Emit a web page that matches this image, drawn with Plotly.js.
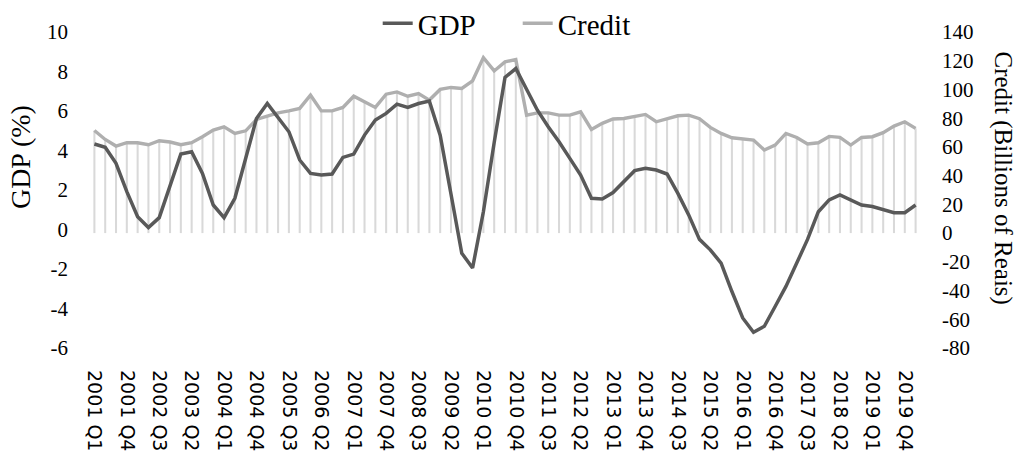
<!DOCTYPE html>
<html>
<head>
<meta charset="utf-8">
<script src="https://cdn.plot.ly/plotly-3.0.1.min.js"></script>
<style>html,body{margin:0;padding:0;background:#fff;}#chart{width:1016px;height:454px;}</style>
</head>
<body>
<div id="chart"></div>
<script>
var quarters = ["2001 Q1","2001 Q2","2001 Q3","2001 Q4","2002 Q1","2002 Q2","2002 Q3","2002 Q4",
"2003 Q1","2003 Q2","2003 Q3","2003 Q4","2004 Q1","2004 Q2","2004 Q3","2004 Q4",
"2005 Q1","2005 Q2","2005 Q3","2005 Q4","2006 Q1","2006 Q2","2006 Q3","2006 Q4",
"2007 Q1","2007 Q2","2007 Q3","2007 Q4","2008 Q1","2008 Q2","2008 Q3","2008 Q4",
"2009 Q1","2009 Q2","2009 Q3","2009 Q4","2010 Q1","2010 Q2","2010 Q3","2010 Q4",
"2011 Q1","2011 Q2","2011 Q3","2011 Q4","2012 Q1","2012 Q2","2012 Q3","2012 Q4",
"2013 Q1","2013 Q2","2013 Q3","2013 Q4","2014 Q1","2014 Q2","2014 Q3","2014 Q4",
"2015 Q1","2015 Q2","2015 Q3","2015 Q4","2016 Q1","2016 Q2","2016 Q3","2016 Q4",
"2017 Q1","2017 Q2","2017 Q3","2017 Q4","2018 Q1","2018 Q2","2018 Q3","2018 Q4",
"2019 Q1","2019 Q2","2019 Q3","2019 Q4","2020 Q1"];

var gdp = [4.33,4.16,3.35,1.92,0.65,0.1,0.6,2.17,3.82,3.94,
2.84,1.24,0.6,1.58,3.52,5.62,6.38,5.7,4.95,3.52,
2.84,2.76,2.81,3.65,3.82,4.78,5.54,5.88,6.35,6.18,
6.38,6.5,4.78,1.8,-1.2,-1.95,0.9,4.4,7.7,8.15,
7.1,6.04,5.2,4.44,3.6,2.76,1.58,1.55,1.87,2.42,
2.98,3.1,3.01,2.81,1.83,0.74,-0.5,-1.03,-1.7,-3.14,
-4.48,-5.2,-4.9,-3.9,-2.88,-1.7,-0.5,0.9,1.5,1.75,
1.5,1.24,1.16,0.99,0.85,0.85,1.24];

var credit = [71.4,65.2,60.6,62.9,62.9,61.5,64.3,63.4,61.5,62.9,
67.1,71.7,74,69.4,71.2,79.1,81.4,83.7,85.1,86.8,
96,85.1,85.1,87.5,95.3,91.4,87.5,96.7,98.3,95.3,
97.2,92.6,100,101.4,100.7,106,122.2,112.9,119.2,120.8,
82.1,83.7,83.7,82.1,82.1,84.4,72.2,76.4,79.4,79.8,
81,82.6,77.5,79.6,81.7,82.1,79.6,73.6,69.4,66.4,
65.5,64.8,57.8,61.3,69.4,66.6,62,62.9,67.3,66.6,
61.3,66.6,67.1,69.9,74.5,77.5,72.9];

var tickLabels = quarters.filter(function(q, i){ return i % 3 === 0; });
var gdpTickVals = [-6,-4,-2,0,2,4,6,8,10];
var gdpTickText = ["-6","-4","-2","0","2","4","6","8","10"];
var creditTickVals = [-80,-60,-40,-20,0,20,40,60,80,100,120,140];
var creditTickText = ["-80","-60","-40","-20","0","20","40","60","80","100","120","140"];

var SERIF = "'Liberation Serif', 'Times New Roman', serif";
var SANS = "'DejaVu Sans', sans-serif";

var traces = [
  {type:'bar', x:quarters, y:credit, yaxis:'y', xaxis:'x', width:0.19,
   marker:{color:'#d9d9d9', line:{width:0}}, showlegend:false, hoverinfo:'skip'},
  {type:'scatter', mode:'lines', name:'GDP', x:quarters, y:gdp, yaxis:'y2', xaxis:'x',
   line:{color:'#595959', width:3.5}},
  {type:'scatter', mode:'lines', name:'Credit', x:quarters, y:credit, yaxis:'y', xaxis:'x',
   line:{color:'#afafaf', width:3.4}}
];

var layout = {
  width:1016, height:454,
  margin:{l:89, r:95, t:32, b:106, autoexpand:false},
  paper_bgcolor:'#fff', plot_bgcolor:'rgba(0,0,0,0)',
  font:{family:SERIF, size:21, color:'#000'},
  showlegend:true,
  legend:{orientation:'h', x:0.347, xanchor:'left', y:1.027, yanchor:'middle',
          entrywidth:95, entrywidthmode:'pixels',
          font:{family:SERIF, size:29, color:'#000'}, traceorder:'normal', bgcolor:'rgba(0,0,0,0)'},
  xaxis:{type:'category', categoryorder:'array', categoryarray:quarters,
         range:[-0.5, quarters.length-0.5], tickmode:'array', tickvals:tickLabels, ticktext:tickLabels,
         tickangle:90, ticks:'', showline:false, showgrid:false, zeroline:false,
         ticklabelstandoff:21, tickfont:{family:SANS, size:19, color:'#000'}},
  xaxis2:{type:'linear', overlaying:'x', anchor:'free', position:80/220,
          range:[-0.5, quarters.length-0.5], tickmode:'linear', tick0:0, dtick:1,
          showline:true, linecolor:'#d9d9d9', linewidth:2, ticks:'outside', ticklen:4,
          tickcolor:'#d9d9d9', tickwidth:2, showticklabels:false, showgrid:false, zeroline:false},
  yaxis:{side:'right', range:[-80,140], tickmode:'array', tickvals:creditTickVals, ticktext:creditTickText,
         showgrid:false, zeroline:false, ticks:'', showline:false, ticklabelstandoff:20,
         tickfont:{family:SERIF, size:21, color:'#000'}},
  yaxis2:{side:'left', overlaying:'y', range:[-6,10], tickmode:'array', tickvals:gdpTickVals, ticktext:gdpTickText,
          showgrid:false, zeroline:false, ticks:'', showline:false, ticklabelstandoff:20,
          tickfont:{family:SERIF, size:21, color:'#000'}},
  annotations:[
    {text:'GDP (%)', xref:'paper', yref:'paper', x:-0.083, y:0.604, textangle:-90, showarrow:false,
     font:{family:SERIF, size:28, color:'#000'}, xanchor:'center', yanchor:'middle'},
    {text:'Credit (Billions of Reais)', xref:'paper', yref:'paper', x:1.098, y:0.538, textangle:90, showarrow:false,
     font:{family:SERIF, size:25, color:'#000'}, xanchor:'center', yanchor:'middle'}
  ]
};

Plotly.newPlot('chart', traces, layout, {displayModeBar:false, staticPlot:true});
</script>
</body>
</html>
